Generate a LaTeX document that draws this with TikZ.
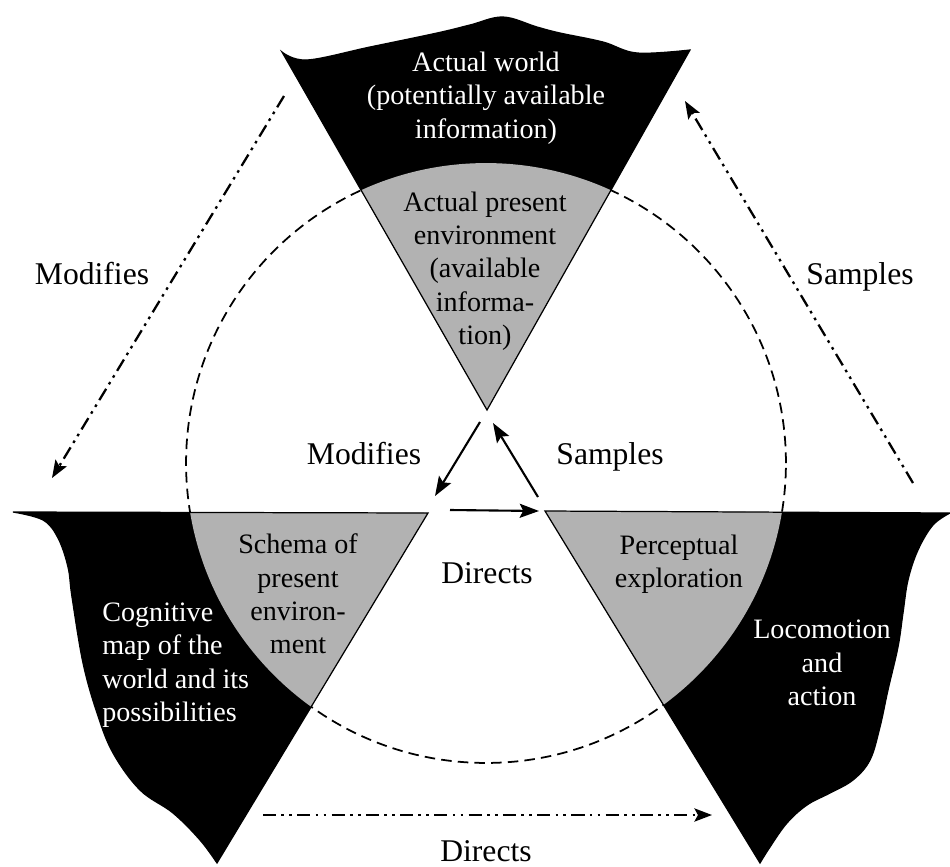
\documentclass[tikz,border=0pt]{standalone}
\usepackage{fontspec}
\setmainfont{Liberation Serif}
\usetikzlibrary{arrows.meta}

\definecolor{stipple}{gray}{0.70}

% outlines of the three regions (wavy outer edges, straight inner edges)
\newcommand\worldpath{plot[smooth,tension=0.6] coordinates {(282,52) (307,60) (370,47) (437,33) (470,25) (503,17) (537,27) (560,33) (603,42) (637,53) (690,50)} -- (487,410) -- cycle}
\newcommand\mappath{plot[smooth,tension=0.6] coordinates {(13,512) (43,520) (58,538) (68,567) (72,597) (83,663) (97,713) (113,753) (140,790) (173,813) (200,840) (217,863)} -- (428,513) -- cycle}
\newcommand\actionpath{plot[smooth,tension=0.6] coordinates {(950,513) (933,525) (918,550) (908,580) (903,613) (898,647) (888,690) (880,727) (870,760) (853,780) (830,793) (807,805) (787,823) (770,847) (760,863)} -- (545,511) -- cycle}

\tikzset{
  boxtext/.style={font=\fontsize{16}{19}\selectfont, align=center, inner sep=0pt},
  lbl/.style={font=\fontsize{18}{21}\selectfont, inner sep=0pt},
  solidarrow/.style={line width=1.2pt, -{Stealth[length=11pt,width=8pt,inset=2pt]}},
  dotarrow/.style={line width=1.3pt, dash pattern=on 7.5pt off 3pt on 1.5pt off 3pt on 1.5pt off 3pt, -{Stealth[length=10pt,width=7.5pt,inset=2pt]}},
  bigcircle/.style={dash pattern=on 6pt off 3.5pt, line width=1pt}
}

\begin{document}
\begin{tikzpicture}[x=0.02cm,y=-0.02cm]
\useasboundingbox (0,0) rectangle (950,866);

% dashed circle of the present environment
\coordinate (C) at (486,463);
\draw[bigcircle] (C) circle[radius=6cm];

% the three regions: black outside the circle, grey inside it
\foreach \p in {\worldpath,\mappath,\actionpath}{
  \fill[black] \p;
  \begin{scope}
    \clip \p;
    \fill[stipple] (C) circle[radius=6cm];
  \end{scope}
  \draw[line width=0.7pt] \p;
}

% texts in the regions
\node[boxtext, text=white] (world) at (486,98) {Actual world\\(potentially available\\information)};
\node[boxtext] (present) at (485,271) {Actual present\\environment\\(available\\informa-\\tion)};
\node[boxtext] (schema) at (298,594) {Schema of\\present\\environ-\\ment};
\node[boxtext, text=white, align=left, anchor=west] (cogmap) at (102,665) {Cognitive\\map of the\\world and its\\possibilities};
\node[boxtext] (percept) at (679,564) {Perceptual\\exploration};
\node[boxtext, text=white] (loco) at (822,663) {Locomotion\\and\\action};

% arrow labels
\node[lbl] (modOut) at (92,274) {Modifies};
\node[lbl] (samOut) at (860,277) {Samples};
\node[lbl] (modIn) at (364,454) {Modifies};
\node[lbl] (samIn) at (610,457) {Samples};
\node[lbl] (dirIn) at (487,573) {Directs};
\node[lbl] (dirOut) at (486,851) {Directs};

% arrow end points
\coordinate (mi1) at (480,422);
\coordinate (mi2) at (435,496);
\coordinate (si1) at (538,497);
\coordinate (si2) at (493,423);
\coordinate (di1) at (450,510);
\coordinate (di2) at (539,511);
\coordinate (mo1) at (284,96);
\coordinate (mo2) at (52,478);
\coordinate (so1) at (913,483);
\coordinate (so2) at (685,101);
\coordinate (do1) at (263,815);
\coordinate (do2) at (712,815);

% inner solid arrows
\draw[solidarrow] (mi1) -- (mi2);
\draw[solidarrow] (si1) -- (si2);
\draw[solidarrow] (di1) -- (di2);

% outer dash-dot-dot arrows
\draw[dotarrow] (mo1) -- (mo2);
\draw[dotarrow] (so1) -- (so2);
\draw[dotarrow] (do1) -- (do2);
\end{tikzpicture}
\end{document}
